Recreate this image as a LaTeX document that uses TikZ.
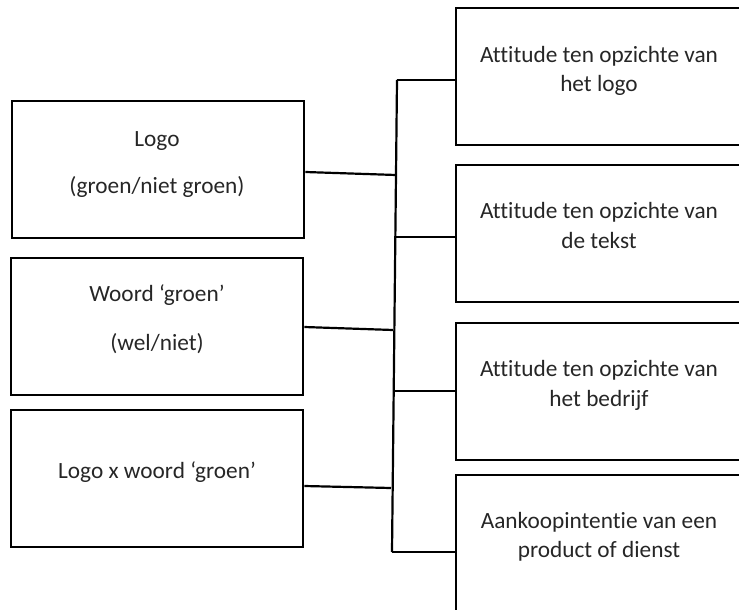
\documentclass[tikz,border=0pt]{standalone}
\usepackage{fontspec}
\setmainfont{Carlito}[Ligatures=NoCommon]
\begin{document}
\begin{tikzpicture}[x=1pt,y=-1pt,
  box/.style={draw, line width=2.3pt, rectangle, inner sep=0pt, anchor=north west},
  lbl/.style={font=\fontsize{23.3}{27}\selectfont, text=black!85, inner sep=0pt, anchor=base},
  conn/.style={line width=2.2pt}]
\useasboundingbox (0,0) rectangle (739,610);
\begin{scope}
\clip (0,0) rectangle (739,610);
% left boxes
\node[box, minimum width=292pt, minimum height=137pt] (L1) at (11,100) {};
\node[box, minimum width=292pt, minimum height=137pt] (L2) at (10,257) {};
\node[box, minimum width=292pt, minimum height=137pt] (L3) at (10,409) {};
% right boxes
\node[box, minimum width=320pt, minimum height=137pt] (R1) at (455,7) {};
\node[box, minimum width=320pt, minimum height=137pt] (R2) at (455,164) {};
\node[box, minimum width=320pt, minimum height=137pt] (R3) at (455,322) {};
\node[box, minimum width=320pt, minimum height=160pt] (R4) at (455,474) {};
% bus
\coordinate (bt) at (397,80);
\coordinate (bb) at (392,552);
\draw[conn] (bt) -- (bb);
% left connectors
\coordinate (a1) at (L1.east |- 0,172);
\coordinate (b1) at (396,175);
\coordinate (a2) at (L2.east |- 0,327);
\coordinate (b2) at (393,330);
\coordinate (a3) at (L3.east |- 0,486);
\coordinate (b3) at (391,488);
\draw[conn] (a1) -- (b1);
\draw[conn] (a2) -- (b2);
\draw[conn] (a3) -- (b3);
% right connectors
\coordinate (c1) at (R1.west |- 0,80);
\coordinate (c2) at (R2.west |- 0,237);
\coordinate (c3) at (R3.west |- 0,391);
\coordinate (c4) at (R4.west |- 0,552);
\coordinate (d2) at (395,237);
\coordinate (d3) at (394,391);
\draw[conn] (bt) -- (c1);
\draw[conn] (d2) -- (c2);
\draw[conn] (d3) -- (c3);
\draw[conn] (bb) -- (c4);
\end{scope}
% texts
\node[lbl] (t1a) at (157,146) {Logo};
\node[lbl] (t1b) at (157,193) {(groen/niet groen)};
\node[lbl] (t2a) at (157,301) {Woord ‘groen’};
\node[lbl] (t2b) at (157,350) {(wel/niet)};
\node[lbl] (t3a) at (157,478) {Logo x woord ‘groen’};
\node[lbl] (r1a) at (599,63) {Attitude ten opzichte van};
\node[lbl] (r1b) at (599,92) {het logo};
\node[lbl] (r2a) at (599,218) {Attitude ten opzichte van};
\node[lbl] (r2b) at (599,248) {de tekst};
\node[lbl] (r3a) at (599,376) {Attitude ten opzichte van};
\node[lbl] (r3b) at (599,406) {het bedrijf};
\node[lbl] (r4a) at (599,528) {Aankoopintentie van een};
\node[lbl] (r4b) at (599,557) {product of dienst};
\end{tikzpicture}
\end{document}
